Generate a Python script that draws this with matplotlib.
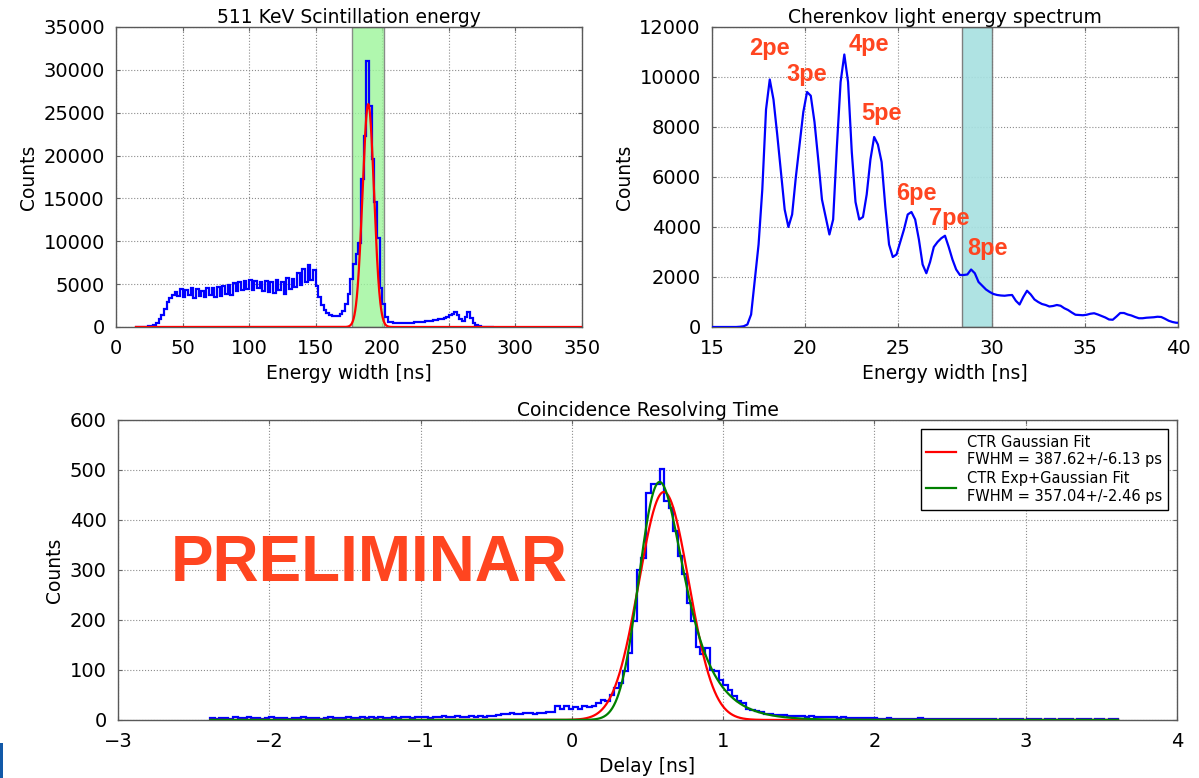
import math
import numpy as np
import matplotlib
matplotlib.use("Agg")
import matplotlib.pyplot as plt
from matplotlib.patches import Rectangle

# ---------------------------------------------------------------- data
# 511 keV scintillation energy histogram (2 ns bins starting at 14 ns)
sc_start, sc_width = 14.0, 2.0
sc_counts = [
    0, 0, 0, 10, 20, 60, 120, 250, 450, 900,
    1400, 2100, 2900, 3400, 3700, 4100, 3600, 4400, 3500, 4300,
    3700, 4500, 3400, 4400, 3600, 4200, 3500, 4600, 3700, 4500,
    3500, 4700, 3600, 4800, 3800, 4900, 3700, 5100, 4200, 5300,
    4300, 5400, 4400, 5500, 4300, 5400, 4500, 5300, 4200, 5400,
    4100, 5200, 4000, 5500, 4300, 5200, 3900, 5700, 4400, 5600,
    4700, 6300, 4900, 6800, 5200, 7200, 5500, 6600, 4800, 3500,
    2600, 2000, 1600, 1400, 1300, 1250, 1300, 1500, 1900, 2700,
    3800, 5600, 7300, 8460, 9800, 17300, 22300, 31000, 25800, 19600,
    14600, 10400, 4600, 2700, 1150, 600, 550, 500, 480, 470,
    500, 480, 500, 520, 500, 550, 560, 600, 620, 650,
    700, 720, 780, 850, 900, 950, 1050, 1200, 1400, 1500,
    1750, 1400, 900, 700, 1200, 1700, 1100, 500, 200, 80,
    40, 20, 10, 5, 0,
]
sc_fit = dict(amp=26000.0, mean=189.5, sigma=4.3)
sc_window = (177.5, 201.5)

# Cherenkov light spectrum (0.2 ns bins starting at 15 ns)
ch_start, ch_width = 15.0, 0.2
ch_counts = [
    0, 0, 0, 0, 0, 0, 0, 10, 30, 100,
    500, 1900, 3300, 5500, 8700, 9900, 9100, 7700, 6200, 4700,
    4000, 4500, 6000, 7300, 8600, 9400, 9250, 8200, 6700, 5100,
    4400, 3700, 4300, 7200, 9800, 10900, 9800, 7000, 5000, 4300,
    4400, 5300, 6700, 7600, 7300, 6600, 4800, 3300, 2800, 2900,
    3400, 3900, 4500, 4600, 4300, 3500, 2500, 2150, 2600, 3200,
    3400, 3550, 3650, 3200, 2700, 2300, 2080, 2080, 2100, 2300,
    2150, 1800, 1650, 1500, 1400, 1320, 1280, 1260, 1250, 1270,
    1280, 1050, 900, 1200, 1450, 1300, 1100, 1000, 920, 880,
    820, 840, 880, 850, 750, 680, 580, 490, 480, 470,
    490, 530, 550, 500, 440, 380, 300, 290, 420, 560,
    560, 500, 460, 400, 350, 350, 370, 380, 390, 410,
    400, 330, 250, 200, 170,
]
ch_window = (28.4, 30.0)
pe_labels = ["2pe", "3pe", "4pe", "5pe", "6pe", "7pe", "8pe"]
pe_x = [18.1, 20.1, 23.4, 24.1, 25.95, 27.75, 29.8]
pe_y = [11150, 10100, 11300, 8550, 5350, 4350, 3130]

# Coincidence time delay histogram (0.03 ns bins starting at -2.39 ns)
ctr_start, ctr_width = -2.39, 0.03
ctr_counts = [
    3, 2, 4, 3, 2, 5, 3, 4, 6, 4, 3, 2, 4, 5, 3, 4, 3, 2, 4, 3,
    5, 4, 3, 4, 2, 3, 5, 4, 3, 4, 5, 3, 4, 6, 4, 5, 4, 5, 3, 4,
    5, 4, 6, 5, 4, 5,
    5, 6, 4, 6, 5, 7, 5, 6, 7, 5, 6, 7, 6, 8, 6, 7, 8,
    10, 12, 11, 13, 12, 11, 13, 14, 12, 13, 14,
    15, 16, 28, 22, 27, 21,
    25, 22, 27, 25, 27, 33, 40, 38, 50, 63, 73, 97, 133,
    197, 300, 323, 453, 471, 471, 501, 437, 423, 377,
    327, 291, 233, 197, 145, 131, 143, 100, 97, 80,
    70, 60, 47, 37, 33, 22, 20, 17, 15, 12,
    12, 10, 10,
    9, 8, 8, 7, 8, 6, 7, 6, 5, 6, 5, 5, 4, 5, 4, 4, 3, 4, 3, 3,
    3, 2, 2, 3, 2, 1, 2, 2, 1, 2, 3, 1, 2, 1, 1, 2, 1, 2, 1, 1,
    2, 1, 1, 1, 2, 1, 1, 0, 1, 1, 2, 1, 1, 0, 1, 1, 1, 0, 1, 1,
    0, 1, 1, 1, 0, 1, 2, 1, 0, 1, 1, 0, 1, 1,
]
gauss_fwhm_ps, gauss_err_ps = 387.62, 6.13
gauss_amp, gauss_mean = 456.0, 0.608
emg_fwhm_ps, emg_err_ps = 357.04, 2.46
emg_amp, emg_peak = 476.0, 0.58
emg_tau_over_sigma = 1.5

# ---------------------------------------------------------------- style
BLUE, RED, GREEN = "#0000ff", "#ff0000", "#008000"
LABEL_RED = "#ff4520"
FS = 13.5
plt.rcParams.update({
    "font.family": ["DejaVu Sans"],
    "font.size": FS,
    "axes.edgecolor": "0.35",
    "axes.linewidth": 1.0,
    "xtick.direction": "in",
    "ytick.direction": "in",
    "xtick.top": True,
    "ytick.right": True,
    "xtick.major.size": 3,
    "ytick.major.size": 3,
    "xtick.color": "0.4",
    "ytick.color": "0.4",
    "xtick.labelcolor": "black",
    "ytick.labelcolor": "black",
    "xtick.labelsize": 14,
    "ytick.labelsize": 14,
    "xtick.major.pad": 9,
    "ytick.major.pad": 8,
})


def style_grid(ax):
    ax.grid(True, linestyle=":", color="0.55", linewidth=0.8)
    ax.set_axisbelow(True)


def gaussian(x, amp, mean, sigma):
    return amp * np.exp(-0.5 * ((x - mean) / sigma) ** 2)


_erfc = np.vectorize(math.erfc)


def emg_shape(x, mu, sigma, tau):
    lam = 1.0 / tau
    arg = (mu + lam * sigma ** 2 - x) / (np.sqrt(2.0) * sigma)
    return 0.5 * lam * np.exp(0.5 * lam * (2 * mu + lam * sigma ** 2 - 2 * x)) * _erfc(arg)


def fwhm_of(x, y):
    half = y.max() / 2.0
    idx = np.where(y >= half)[0]
    return x[idx[-1]] - x[idx[0]]


fig = plt.figure(figsize=(11.99, 7.78), dpi=100)

# ---------------------------------------------------------------- top left
ax1 = fig.add_axes([0.0967, 0.5797, 0.3887, 0.3856])
style_grid(ax1)
sc_edges = sc_start + sc_width * np.arange(len(sc_counts) + 1)
ax1.axvspan(*sc_window, facecolor="#9cf59a", edgecolor="0.45",
            linewidth=1.0, alpha=0.8, zorder=1)
ax1.stairs(sc_counts, sc_edges, color=BLUE, linewidth=1.6, zorder=3)
xs = np.linspace(15, 350, 3000)
ax1.plot(xs, gaussian(xs, **sc_fit), color=RED, linewidth=1.6, zorder=4)
ax1.set_xlim(0, 350)
ax1.set_ylim(0, 35000)
ax1.set_xticks(np.arange(0, 351, 50))
ax1.set_yticks(np.arange(0, 35001, 5000))
ax1.set_title("511 KeV Scintillation energy", fontsize=FS, pad=3)
ax1.set_xlabel("Energy width [ns]", fontsize=FS, labelpad=4)
ax1.set_ylabel("Counts", fontsize=FS)

# ---------------------------------------------------------------- top right
ax2 = fig.add_axes([0.5938, 0.5797, 0.3887, 0.3856])
style_grid(ax2)
ch_centers = ch_start + ch_width * (np.arange(len(ch_counts)) + 0.5)
ax2.axvspan(*ch_window, facecolor="#a6e0e0", edgecolor="0.45",
            linewidth=1.0, alpha=0.9, zorder=1)
ax2.plot(np.r_[ch_start, ch_centers, ch_centers[-1] + ch_width / 2],
         np.r_[ch_counts[0], ch_counts, ch_counts[-1]],
         color=BLUE, linewidth=1.6, zorder=3)
for lab, px, py in zip(pe_labels, pe_x, pe_y):
    ax2.text(px, py, lab, color=LABEL_RED, fontsize=17, fontweight="bold",
             family=["Liberation Sans", "DejaVu Sans"],
             ha="center", va="center", zorder=5)
ax2.set_xlim(15, 40)
ax2.set_ylim(0, 12000)
ax2.set_xticks(np.arange(15, 41, 5))
ax2.set_yticks(np.arange(0, 12001, 2000))
ax2.set_title("Cherenkov light energy spectrum", fontsize=FS, pad=3)
ax2.set_xlabel("Energy width [ns]", fontsize=FS, labelpad=4)
ax2.set_ylabel("Counts", fontsize=FS)

# ---------------------------------------------------------------- bottom
ax3 = fig.add_axes([0.0984, 0.0746, 0.8833, 0.3856])
style_grid(ax3)
ctr_edges = ctr_start + ctr_width * np.arange(len(ctr_counts) + 1)
ax3.stairs(ctr_counts, ctr_edges, color=BLUE, linewidth=1.6, zorder=3)

xt = np.linspace(ctr_edges[0], ctr_edges[-1], 4000)
gauss_sigma = gauss_fwhm_ps / 1000.0 / (2.0 * np.sqrt(2.0 * np.log(2.0)))
ax3.plot(xt, gaussian(xt, gauss_amp, gauss_mean, gauss_sigma), color=RED,
         linewidth=1.6, zorder=4,
         label=f"CTR Gaussian Fit\nFWHM = {gauss_fwhm_ps:.2f}+/-{gauss_err_ps:.2f} ps")

# exponentially modified Gaussian scaled to the quoted FWHM
xu = np.linspace(-10, 25, 35001)
yu = emg_shape(xu, 0.0, 1.0, emg_tau_over_sigma)
k = (emg_fwhm_ps / 1000.0) / fwhm_of(xu, yu)
mu0 = emg_peak - k * xu[np.argmax(yu)]
ye = emg_shape(xt, mu0, k, k * emg_tau_over_sigma)
ye = emg_amp * ye / ye.max()
ax3.plot(xt, ye, color=GREEN, linewidth=1.6, zorder=4,
         label=f"CTR Exp+Gaussian Fit\nFWHM = {emg_fwhm_ps:.2f}+/-{emg_err_ps:.2f} ps")

ax3.text(-1.34, 278, "PRELIMINAR", color=LABEL_RED, fontsize=46,
         fontweight="bold", family=["Liberation Sans", "DejaVu Sans"],
         ha="center", va="baseline", zorder=5)

ax3.set_xlim(-3, 4)
ax3.set_ylim(0, 600)
ax3.set_xticks(np.arange(-3, 5, 1))
ax3.set_yticks(np.arange(0, 601, 100))
ax3.set_title("Coincidence Resolving Time", fontsize=FS, pad=3)
ax3.set_xlabel("Delay [ns]", fontsize=FS, labelpad=4)
ax3.set_ylabel("Counts", fontsize=FS)
leg = ax3.legend(loc="upper right", fontsize=10.5, fancybox=False,
                 framealpha=1.0, edgecolor="black", handlelength=2.0,
                 borderaxespad=0.6, labelspacing=0.3)
leg.get_frame().set_linewidth(1.0)

# slide edge marker
fig.patches.append(Rectangle((0, 0), 3 / 1199, 35 / 778,
                             transform=fig.transFigure,
                             facecolor="#1259a8", edgecolor="none"))

fig.savefig("out.png", dpi=100)
